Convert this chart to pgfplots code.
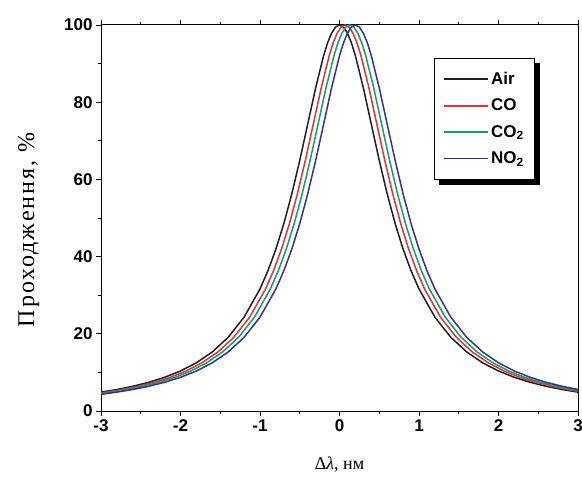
\documentclass[border=0pt]{standalone}
\usepackage{fontspec}
\setmainfont{Liberation Serif}
\setsansfont{Liberation Sans}
\usepackage{pgfplots}
\pgfplotsset{compat=1.18}
\definecolor{cair}{RGB}{30,30,30}
\definecolor{cco}{RGB}{225,50,60}
\definecolor{cco2}{RGB}{20,160,100}
\definecolor{cno2}{RGB}{50,50,150}
\begin{document}
\begin{tikzpicture}
\begin{axis}[
    scale only axis,
    width=477pt, height=386pt,
    xmin=-3, xmax=3, ymin=0, ymax=100,
    xtick={-3,-2,-1,0,1,2,3},
    ytick={0,20,40,60,80,100},
    minor x tick num=1,
    minor y tick num=1,
    tick align=outside,
    ytick pos=left,
    xtick pos=both,
    major tick length=5pt,
    minor tick length=3pt,
    axis line style={line width=1pt},
    tick style={line width=0.8pt, black},
    /pgf/number format/assume math mode=true,
    ticklabel style={font=\fontsize{17}{20}\selectfont\sffamily\bfseries},
    xlabel={\fontsize{18}{21}\selectfont Δ\textit{λ}, нм},
    ylabel={\fontsize{24}{28}\selectfont\addfontfeature{LetterSpace=8}Проходження, \%},
    xlabel style={yshift=-18pt},
    ylabel style={yshift=18pt, xshift=-12pt},
    legend style={at={(0.91,0.915)}, anchor=north east, draw=black, line width=0.8pt,
        fill=white, font=\fontsize{17}{20}\selectfont\sffamily\bfseries,
        row sep=9pt, inner xsep=9pt, inner ysep=12pt, name=myleg},
    legend cell align=left,
    legend image code/.code={\draw[#1, line width=1.8pt] (0pt,0pt) -- (44pt,0pt);},
    every axis plot/.append style={line width=1.5pt},
]
% Air
\addplot[cair] coordinates {
(-3.4,3.85) (-3.2,4.32) (-3.0,4.89) (-2.8,5.57) (-2.6,6.40) (-2.4,7.43) (-2.2,8.72)
(-2.0,10.36) (-1.8,12.49) (-1.6,15.30) (-1.4,19.09) (-1.2,24.31) (-1.0,31.62)
(-0.9,36.34) (-0.8,41.94) (-0.7,48.55) (-0.6,56.23) (-0.5,64.91) (-0.4,74.29)
(-0.3,83.71) (-0.2,92.04) (-0.15,95.36) (-0.1,97.88) (-0.05,99.46) (0,100)
(0.05,99.46) (0.1,97.88) (0.15,95.36) (0.2,92.04) (0.3,83.71) (0.4,74.29)
(0.5,64.91) (0.6,56.23) (0.7,48.55) (0.8,41.94) (0.9,36.34) (1.0,31.62)
(1.2,24.31) (1.4,19.09) (1.6,15.30) (1.8,12.49) (2.0,10.36) (2.2,8.72)
(2.4,7.43) (2.6,6.40) (2.8,5.57) (3.0,4.89) (3.2,4.32) (3.4,3.85)
};
\addlegendentry{Air}
% CO
\addplot[cco] coordinates {
(-3.33,3.85) (-3.13,4.32) (-2.93,4.89) (-2.73,5.57) (-2.53,6.40) (-2.33,7.43) (-2.13,8.72)
(-1.93,10.36) (-1.73,12.49) (-1.53,15.30) (-1.33,19.09) (-1.13,24.31) (-0.93,31.62)
(-0.83,36.34) (-0.73,41.94) (-0.63,48.55) (-0.53,56.23) (-0.43,64.91) (-0.33,74.29)
(-0.23,83.71) (-0.13,92.04) (-0.08,95.36) (-0.03,97.88) (0.02,99.46) (0.07,100)
(0.12,99.46) (0.17,97.88) (0.22,95.36) (0.27,92.04) (0.37,83.71) (0.47,74.29)
(0.57,64.91) (0.67,56.23) (0.77,48.55) (0.87,41.94) (0.97,36.34) (1.07,31.62)
(1.27,24.31) (1.47,19.09) (1.67,15.30) (1.87,12.49) (2.07,10.36) (2.27,8.72)
(2.47,7.43) (2.67,6.40) (2.87,5.57) (3.07,4.89) (3.27,4.32) (3.47,3.85)
};
\addlegendentry{CO}
% CO2
\addplot[cco2] coordinates {
(-3.27,3.85) (-3.07,4.32) (-2.87,4.89) (-2.67,5.57) (-2.47,6.40) (-2.27,7.43) (-2.07,8.72)
(-1.87,10.36) (-1.67,12.49) (-1.47,15.30) (-1.27,19.09) (-1.07,24.31) (-0.87,31.62)
(-0.77,36.34) (-0.67,41.94) (-0.57,48.55) (-0.47,56.23) (-0.37,64.91) (-0.27,74.29)
(-0.17,83.71) (-0.07,92.04) (-0.02,95.36) (0.03,97.88) (0.08,99.46) (0.13,100)
(0.18,99.46) (0.23,97.88) (0.28,95.36) (0.33,92.04) (0.43,83.71) (0.53,74.29)
(0.63,64.91) (0.73,56.23) (0.83,48.55) (0.93,41.94) (1.03,36.34) (1.13,31.62)
(1.33,24.31) (1.53,19.09) (1.73,15.30) (1.93,12.49) (2.13,10.36) (2.33,8.72)
(2.53,7.43) (2.73,6.40) (2.93,5.57) (3.13,4.89) (3.33,4.32) (3.53,3.85)
};
\addlegendentry{CO\textsubscript{2}}
% NO2
\addplot[cno2] coordinates {
(-3.2,3.85) (-3.0,4.32) (-2.8,4.89) (-2.6,5.57) (-2.4,6.40) (-2.2,7.43) (-2.0,8.72)
(-1.8,10.36) (-1.6,12.49) (-1.4,15.30) (-1.2,19.09) (-1.0,24.31) (-0.8,31.62)
(-0.7,36.34) (-0.6,41.94) (-0.5,48.55) (-0.4,56.23) (-0.3,64.91) (-0.2,74.29)
(-0.1,83.71) (0.0,92.04) (0.05,95.36) (0.1,97.88) (0.15,99.46) (0.2,100)
(0.25,99.46) (0.3,97.88) (0.35,95.36) (0.4,92.04) (0.5,83.71) (0.6,74.29)
(0.7,64.91) (0.8,56.23) (0.9,48.55) (1.0,41.94) (1.1,36.34) (1.2,31.62)
(1.4,24.31) (1.6,19.09) (1.8,15.30) (2.0,12.49) (2.2,10.36) (2.4,8.72)
(2.6,7.43) (2.8,6.40) (3.0,5.57) (3.2,4.89) (3.4,4.32) (3.6,3.85)
};
\addlegendentry{NO\textsubscript{2}}
\end{axis}
% legend shadow (L-shaped strip beside the box)
\fill[black] ([shift={(0pt,-5pt)}]myleg.north east) rectangle ([shift={(5pt,-5pt)}]myleg.south east);
\fill[black] ([shift={(5pt,0pt)}]myleg.south west) rectangle ([shift={(5pt,-5pt)}]myleg.south east);
\pgfresetboundingbox
\path ([shift={(-101pt,-67pt)}]current axis.south west) rectangle ([shift={(4pt,25pt)}]current axis.north east);
\end{tikzpicture}
\end{document}
